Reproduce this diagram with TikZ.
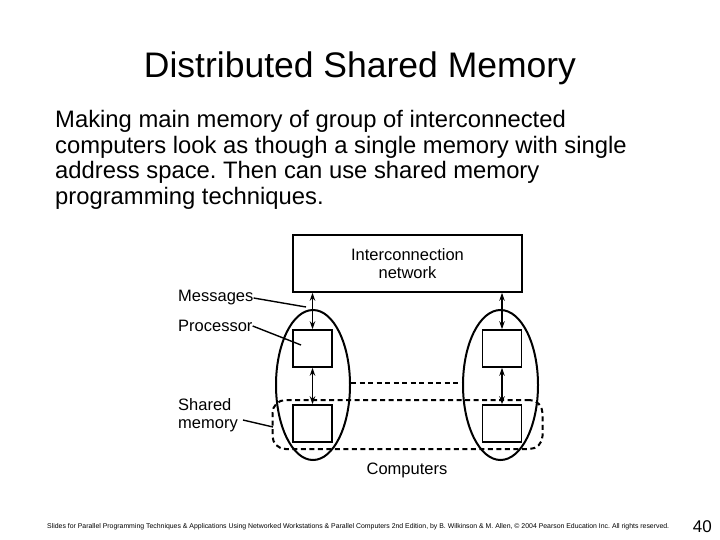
\documentclass[tikz,border=0pt]{standalone}
\usepackage{fontspec}
\setmainfont{Liberation Sans}
\usetikzlibrary{positioning,arrows.meta,shapes.geometric}

\begin{document}
\frenchspacing
\begin{tikzpicture}[x=1pt, y=-1pt,
  every node/.style={font=\fontsize{16.5}{18.5}\selectfont},
  box/.style={draw, line width=1.6pt, minimum width=39pt, minimum height=37pt, inner sep=0pt},
  computer/.style={draw, ellipse, line width=2pt, minimum width=74pt, minimum height=150pt, inner sep=0pt},
  shared/.style={draw, line width=2pt, dash pattern=on 5pt off 3.5pt},
  link/.style={<->, line width=1.3pt},
  lead/.style={line width=1.4pt},
  lbl/.style={anchor=west, inner sep=0pt, align=left},
  >={Stealth[length=8pt,width=5.5pt]}
]
\useasboundingbox (0,0) rectangle (720,540);

\node[font=\fontsize{35.5}{40}\selectfont] (title) at (360,68) {Distributed Shared Memory};
\node[anchor=north west, align=left, inner sep=0pt, font=\fontsize{23.8}{25.7}\selectfont] (intro) at (55,110)
  {Making main memory of group of interconnected\\computers look as though a single memory with single\\address space. Then can use shared memory\\programming techniques.};

% network and computers
\node[box, minimum width=229pt, minimum height=57pt, align=center] (net) at (407.5,263.5) {Interconnection\\network};
\node[computer] (compL) at (313,385) {};
\node[computer, minimum width=75pt] (compR) at (500.5,385) {};
\node[box] (procL) at (312.5,348.5) {};
\node[box] (procR) at (502,348.5) {};
\node[box] (memL) at (312.5,423.5) {};
\node[box] (memR) at (502,423.5) {};

% shared memory region
\node[shared, rounded corners=13pt, minimum width=270pt, minimum height=49pt] (shm) at (407.5,424.5) {};
\draw[shared] ([yshift=2pt]compL.east) -- ([yshift=2pt]compR.west);

\draw[link] (net.south -| procL) -- (procL.north);
\draw[link] (net.south -| procR) -- (procR.north);
\draw[link] (procL) -- (memL);
\draw[link] (procR) -- (memR);

% labels
\node[lbl] (msglbl) at (178,298) {Messages};
\node[lbl] (proclbl) at (178,326) {Processor};
\node[lbl] (shmlbl) at (178,415) {Shared\\memory};
\node (complbl) at (407,470) {Computers};
\coordinate (msgpt) at (306,307);
\coordinate (procpt) at (301,345);
\coordinate (shmpt) at (273,427);
\draw[lead] (msglbl.east) -- (msgpt);
\draw[lead] (proclbl.east) -- (procpt);
\draw[lead] ([xshift=5pt,yshift=-5pt]shmlbl.east) -- (shmpt);

% footer
\node[anchor=west, inner sep=0pt, font=\fontsize{6.9}{8}\selectfont] (foot) at (47,527)
  {Slides for Parallel Programming Techniques \& Applications Using Networked Workstations \& Parallel Computers 2nd Edition, by B. Wilkinson \& M. Allen, \copyright{} 2004 Pearson Education Inc. All rights reserved.};
\node[anchor=east, inner sep=0pt, font=\fontsize{17}{19}\selectfont] (pagenum) at (712,527) {40};
\end{tikzpicture}
\end{document}
